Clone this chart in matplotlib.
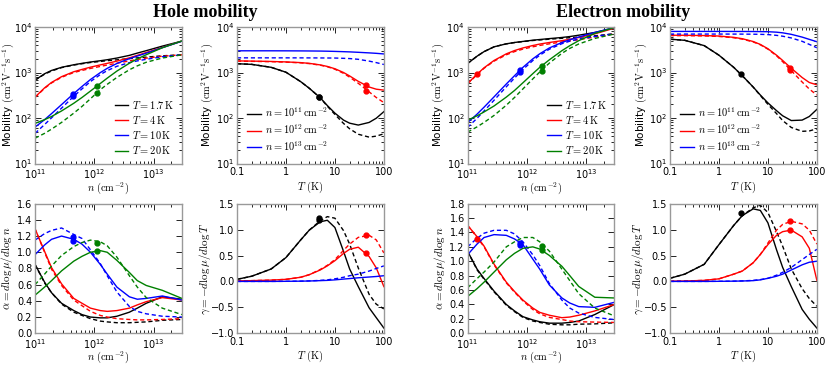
import matplotlib
matplotlib.use("Agg")
import matplotlib.pyplot as plt
import matplotlib.ticker as ticker

plt.rcParams["font.family"] = "DejaVu Sans"
plt.rcParams["mathtext.fontset"] = "cm"

n_vals = [1e11, 1.45e11, 1.9e11, 2.8e11, 4.5e11, 6.2e11, 8.6e11, 1.26e12,
          1.65e12, 2.4e12, 3.9e12, 5.3e12, 7.5e12, 1.4e13, 3e13]
T_vals = [0.1, 0.2, 0.5, 1, 2, 3, 5, 7, 10, 15, 20, 30, 50, 70, 100]

temp_labels = [r"$T = 1.7\,\mathrm{K}$", r"$T = 4\,\mathrm{K}$",
               r"$T = 10\,\mathrm{K}$", r"$T = 20\,\mathrm{K}$"]
dens_labels = [r"$n = 10^{11}\,\mathrm{cm^{-2}}$", r"$n = 10^{12}\,\mathrm{cm^{-2}}$",
               r"$n = 10^{13}\,\mathrm{cm^{-2}}$"]
temp_colors = ["k", "r", "b", "g"]
dens_colors = ["k", "r", "b"]

# ---- hole mobility vs n (T = 1.7, 4, 10, 20 K)
hole_mu_n_solid = [
    [680, 940, 1110, 1300, 1480, 1590, 1700, 1815, 1910, 2080, 2380, 2670, 3020, 3800, 4900],
    [288, 460, 605, 810, 1040, 1170, 1310, 1470, 1590, 1780, 2100, 2380, 2750, 3550, 4900],
    [63, 92, 125, 197, 345, 494, 701, 995, 1235, 1580, 2020, 2300, 2660, 3510, 4880],
    [76, 92, 108, 143, 211, 283, 391, 574, 752, 1075, 1600, 1990, 2460, 3500, 4950],
]
hole_mu_n_dash = [
    [680, 920, 1080, 1280, 1460, 1560, 1660, 1750, 1820, 1900, 2020, 2100, 2180, 2330, 2450],
    [283, 450, 590, 785, 1000, 1110, 1230, 1360, 1460, 1600, 1800, 1930, 2070, 2280, 2450],
    [46, 72, 101, 165, 300, 438, 632, 900, 1100, 1370, 1650, 1800, 1950, 2220, 2450],
    [36, 46, 57, 80, 128, 180, 265, 420, 550, 780, 1150, 1400, 1680, 2080, 2450],
]
hole_n_mark_x = [4.4e11, 4.4e11, 1.1e12, 1.1e12]
hole_n_mark_mu = [340, 300, 500, 360]
hole_n_mark_alpha = [1.14, 1.19, 1.02, 1.11]
hole_n_mark_c = ["b", "b", "g", "g"]

# ---- hole mobility vs T (n = 1e11, 1e12, 1e13)
hole_mu_T_solid = [
    [1560, 1510, 1300, 1015, 630, 450, 280, 188, 128, 90, 77, 70, 80, 99, 138],
    [1800, 1780, 1750, 1710, 1650, 1590, 1470, 1360, 1210, 1000, 840, 640, 480, 430, 410],
    [3000, 3000, 3000, 2995, 2985, 2975, 2960, 2940, 2910, 2870, 2840, 2780, 2700, 2640, 2560],
]
hole_mu_T_dash = [
    [1560, 1510, 1300, 1015, 630, 450, 278, 182, 120, 76, 58, 44, 38, 40, 45],
    [1780, 1760, 1730, 1690, 1630, 1570, 1450, 1340, 1180, 960, 790, 580, 375, 282, 218],
    [2100, 2100, 2100, 2100, 2098, 2095, 2090, 2085, 2080, 2050, 2025, 1950, 1780, 1650, 1500],
]
hole_T_mark_x = [4.7, 4.7, 44, 44]
hole_T_mark_mu = [290, 290, 520, 390]
hole_T_mark_gamma = [1.19, 1.23, 0.54, 0.89]
hole_T_mark_c = ["k", "k", "r", "r"]

# ---- electron mobility vs n
elec_mu_n_solid = [
    [1575, 2290, 2880, 3670, 4270, 4570, 4820, 5130, 5310, 5560, 5890, 6170, 6610, 7590, 9550],
    [575, 920, 1270, 1840, 2570, 3040, 3470, 3920, 4220, 4570, 5010, 5370, 5890, 7080, 9440],
    [79, 122, 173, 292, 558, 851, 1300, 1995, 2580, 3470, 4570, 5250, 6030, 7590, 9770],
    [89, 112, 136, 184, 288, 403, 596, 944, 1297, 1905, 3020, 3890, 5010, 7240, 9770],
]
elec_mu_n_dash = [
    [1575, 2290, 2880, 3670, 4260, 4550, 4780, 5050, 5200, 5400, 5650, 5820, 6000, 6400, 7100],
    [560, 900, 1240, 1780, 2450, 2880, 3270, 3670, 3940, 4270, 4680, 4950, 5250, 6030, 7080],
    [62, 99, 143, 246, 485, 755, 1170, 1830, 2400, 3260, 4300, 4880, 5450, 6200, 7100],
    [49, 64, 80, 114, 191, 283, 437, 723, 1026, 1615, 2640, 3390, 4240, 5610, 7030],
]
elec_n_mark_x = [1.46e11, 7.6e11, 7.6e11, 1.8e12, 1.8e12]
elec_n_mark_mu = [930, 1120, 1050, 1380, 1090]
elec_n_mark_alpha = [1.31, 1.23, 1.25, 1.15, 1.21]
elec_n_mark_c = ["r", "b", "b", "g", "g"]

# ---- electron mobility vs T
elec_mu_T_solid = [
    [5400, 5100, 3900, 2400, 1300, 850, 480, 320, 215, 145, 112, 88, 90, 108, 155],
    [6600, 6580, 6490, 6330, 5930, 5530, 4800, 4140, 3330, 2400, 1840, 1240, 776, 603, 536],
    [8000, 8000, 8000, 8000, 7990, 7980, 7960, 7930, 7880, 7700, 7450, 6900, 6000, 5350, 4750],
]
elec_mu_T_dash = [
    [5400, 5100, 3900, 2400, 1300, 850, 478, 312, 200, 125, 88, 62, 51, 52, 58],
    [6470, 6450, 6360, 6200, 5810, 5420, 4700, 4070, 3260, 2330, 1730, 1100, 618, 434, 319],
    [7000, 7000, 7000, 7000, 6990, 6980, 6950, 6900, 6820, 6550, 6280, 5750, 4850, 4150, 3500],
]
elec_T_mark_x = [2.8, 28, 28]
elec_T_mark_mu = [920, 1260, 1130]
elec_T_mark_gamma = [1.32, 0.99, 1.16]
elec_T_mark_c = ["k", "r", "r"]

# ---- alpha = dlog mu / dlog n
hole_alpha_solid = [
    [0.85, 0.63, 0.5, 0.37, 0.28, 0.23, 0.2, 0.19, 0.19, 0.21, 0.26, 0.31, 0.37, 0.45, 0.42],
    [1.29, 1.01, 0.81, 0.61, 0.43, 0.37, 0.31, 0.28, 0.27, 0.28, 0.31, 0.35, 0.39, 0.44, 0.41],
    [0.97, 1.09, 1.16, 1.2, 1.16, 1.1, 1.0, 0.85, 0.73, 0.57, 0.45, 0.42, 0.43, 0.46, 0.41],
    [0.47, 0.57, 0.65, 0.77, 0.89, 0.95, 1.0, 1.02, 1.0, 0.9, 0.75, 0.65, 0.59, 0.53, 0.43],
]
hole_alpha_dash = [
    [0.85, 0.62, 0.5, 0.36, 0.26, 0.22, 0.18, 0.15, 0.14, 0.13, 0.13, 0.135, 0.14, 0.16, 0.17],
    [1.29, 1.0, 0.79, 0.59, 0.41, 0.34, 0.27, 0.22, 0.2, 0.18, 0.17, 0.165, 0.165, 0.17, 0.18],
    [1.15, 1.23, 1.27, 1.3, 1.22, 1.17, 1.03, 0.86, 0.71, 0.51, 0.33, 0.27, 0.24, 0.21, 0.2],
    [0.6, 0.73, 0.83, 0.96, 1.07, 1.12, 1.15, 1.13, 1.08, 0.94, 0.71, 0.57, 0.44, 0.31, 0.23],
]
elec_alpha_solid = [
    [1.14, 0.89, 0.76, 0.585, 0.4, 0.31, 0.23, 0.185, 0.16, 0.14, 0.14, 0.15, 0.17, 0.26, 0.4],
    [1.5, 1.34, 1.21, 0.96, 0.71, 0.58, 0.46, 0.35, 0.29, 0.25, 0.216, 0.225, 0.25, 0.31, 0.4],
    [1.09, 1.24, 1.33, 1.37, 1.36, 1.31, 1.23, 1.03, 0.89, 0.67, 0.49, 0.42, 0.37, 0.36, 0.43],
    [0.51, 0.62, 0.71, 0.85, 1.02, 1.11, 1.18, 1.2, 1.17, 1.08, 0.93, 0.8, 0.65, 0.5, 0.49],
]
elec_alpha_dash = [
    [1.14, 0.88, 0.75, 0.575, 0.39, 0.3, 0.22, 0.17, 0.15, 0.125, 0.117, 0.117, 0.126, 0.13, 0.145],
    [1.5, 1.33, 1.2, 0.95, 0.7, 0.57, 0.45, 0.33, 0.27, 0.22, 0.19, 0.17, 0.16, 0.155, 0.15],
    [1.2, 1.32, 1.39, 1.43, 1.43, 1.38, 1.27, 1.09, 0.94, 0.69, 0.46, 0.35, 0.28, 0.22, 0.19],
    [0.63, 0.76, 0.85, 0.99, 1.2, 1.27, 1.33, 1.33, 1.27, 1.14, 0.89, 0.73, 0.55, 0.35, 0.24],
]

# ---- gamma = -dlog mu / dlog T
hole_gamma_solid = [
    [0.04, 0.1, 0.24, 0.46, 0.8, 0.99, 1.15, 1.18, 1.04, 0.58, 0.24, -0.1, -0.51, -0.7, -0.9],
    [0.01, 0.015, 0.025, 0.04, 0.08, 0.13, 0.22, 0.3, 0.4, 0.54, 0.62, 0.66, 0.48, 0.26, -0.1],
    [0.0, 0.0, 0.0, 0.002, 0.005, 0.008, 0.015, 0.02, 0.03, 0.045, 0.055, 0.07, 0.085, 0.095, 0.11],
]
hole_gamma_dash = [
    [0.04, 0.1, 0.24, 0.46, 0.8, 0.99, 1.17, 1.25, 1.22, 0.98, 0.72, 0.26, -0.25, -0.44, -0.53],
    [0.01, 0.015, 0.025, 0.04, 0.08, 0.13, 0.23, 0.31, 0.42, 0.6, 0.72, 0.85, 0.89, 0.8, 0.55],
    [0.0, 0.0, 0.0, 0.002, 0.005, 0.01, 0.02, 0.03, 0.05, 0.08, 0.11, 0.14, 0.2, 0.25, 0.3],
]
elec_gamma_solid = [
    [0.06, 0.14, 0.33, 0.71, 1.08, 1.27, 1.4, 1.37, 1.13, 0.61, 0.27, -0.1, -0.54, -0.73, -0.9],
    [0.005, 0.008, 0.02, 0.05, 0.14, 0.2, 0.36, 0.52, 0.71, 0.89, 0.96, 0.99, 0.86, 0.64, 0.02],
    [0.0, 0.0, 0.0, 0.002, 0.005, 0.008, 0.015, 0.03, 0.06, 0.1, 0.14, 0.22, 0.32, 0.37, 0.39],
]
elec_gamma_dash = [
    [0.06, 0.14, 0.33, 0.71, 1.08, 1.27, 1.42, 1.47, 1.33, 0.96, 0.68, 0.24, -0.14, -0.33, -0.48],
    [0.005, 0.008, 0.02, 0.05, 0.14, 0.2, 0.36, 0.52, 0.74, 0.99, 1.1, 1.16, 1.11, 0.99, 0.72],
    [0.0, 0.0, 0.0, 0.002, 0.005, 0.01, 0.02, 0.035, 0.06, 0.12, 0.175, 0.27, 0.42, 0.52, 0.62],
]


def style(ax, logy):
    for s in ax.spines.values():
        s.set_color("0.6")
        s.set_linewidth(1.0)
    ax.set_xscale("log")
    if logy:
        ax.set_yscale("log")
    ax.tick_params(which="both", direction="in", top=True, right=True,
                   labelsize=7, width=0.6, colors="k", pad=2)
    ax.tick_params(axis="x", which="both", pad=2.5)
    ax.tick_params(which="major", length=4)
    ax.tick_params(which="minor", length=2)


def draw(ax, x, solid, dash, colors, labels=None):
    for i, (ys, yd, c) in enumerate(zip(solid, dash, colors)):
        ax.plot(x, ys, color=c, lw=1.0, label=labels[i] if labels else None)
        ax.plot(x, yd, color=c, lw=1.0, ls="--", dashes=(3, 2))


def marks(ax, xs, ys, cs):
    for x, y, c in zip(xs, ys, cs):
        ax.plot(x, y, "o", color=c, ms=3.5, mec=c)


def temp_axis(ax, xlab_y):
    ax.set_xlim(0.1, 100)
    ax.xaxis.set_major_locator(ticker.FixedLocator([0.1, 1, 10, 100]))
    ax.xaxis.set_major_formatter(ticker.FuncFormatter(lambda v, p: f"{v:g}"))
    ax.set_xlabel(r"$T\ (\mathrm{K})$", fontsize=7.5)
    ax.xaxis.set_label_coords(0.5, xlab_y)


def dens_axis(ax, xlab_y):
    ax.set_xlim(1e11, 3e13)
    ax.set_xlabel(r"$n\ (\mathrm{cm^{-2}})$", fontsize=7.5)
    ax.xaxis.set_label_coords(0.5, xlab_y)


fig = plt.figure(figsize=(8.3, 3.65), dpi=100)
lefts = [0.0422, 0.2855, 0.5633, 0.8072]
width = 0.177
top_b, top_h = 0.552, 0.374
bot_b, bot_h = 0.087, 0.355
top_xl, bot_xl = -0.118, -0.12
mob_label = r"Mobility $(\mathrm{cm^2V^{-1}s^{-1}})$"
alpha_label = r"$\alpha = d\log\mu/d\log n$"
gamma_label = r"$\gamma = -d\log\mu/d\log T$"
leg_kw = dict(frameon=False, fontsize=7.5, handlelength=1.3,
              handletextpad=0.4, labelspacing=0.3)

# top row: mobilities
ax = fig.add_axes([lefts[0], top_b, width, top_h])
style(ax, True)
draw(ax, n_vals, hole_mu_n_solid, hole_mu_n_dash, temp_colors, temp_labels)
marks(ax, hole_n_mark_x, hole_n_mark_mu, hole_n_mark_c)
dens_axis(ax, top_xl)
ax.set_ylim(10, 1e4)
ax.set_ylabel(mob_label, fontsize=7.5)
ax.yaxis.set_label_coords(-0.13, 0.5)
ax.legend(loc="lower right", borderaxespad=0.3, **leg_kw)

ax = fig.add_axes([lefts[1], top_b, width, top_h])
style(ax, True)
draw(ax, T_vals, hole_mu_T_solid, hole_mu_T_dash, dens_colors, dens_labels)
marks(ax, hole_T_mark_x, hole_T_mark_mu, hole_T_mark_c)
temp_axis(ax, top_xl)
ax.set_ylim(10, 1e4)
ax.set_ylabel(mob_label, fontsize=7.5)
ax.yaxis.set_label_coords(-0.15, 0.5)
ax.legend(loc="lower left", borderaxespad=0.6, **leg_kw)

ax = fig.add_axes([lefts[2], top_b, width, top_h])
style(ax, True)
draw(ax, n_vals, elec_mu_n_solid, elec_mu_n_dash, temp_colors, temp_labels)
marks(ax, elec_n_mark_x, elec_n_mark_mu, elec_n_mark_c)
dens_axis(ax, top_xl)
ax.set_ylim(10, 1e4)
ax.set_ylabel(mob_label, fontsize=7.5)
ax.yaxis.set_label_coords(-0.15, 0.5)
ax.legend(loc="lower right", borderaxespad=0.3, **leg_kw)

ax = fig.add_axes([lefts[3], top_b, width, top_h])
style(ax, True)
draw(ax, T_vals, elec_mu_T_solid, elec_mu_T_dash, dens_colors, dens_labels)
marks(ax, elec_T_mark_x, elec_T_mark_mu, elec_T_mark_c)
temp_axis(ax, top_xl)
ax.set_ylim(10, 1e4)
ax.set_ylabel(mob_label, fontsize=7.5)
ax.yaxis.set_label_coords(-0.145, 0.5)
ax.legend(loc="lower left", borderaxespad=0.6, **leg_kw)

# bottom row: exponents
ax = fig.add_axes([lefts[0], bot_b, width, bot_h])
style(ax, False)
draw(ax, n_vals, hole_alpha_solid, hole_alpha_dash, temp_colors)
marks(ax, hole_n_mark_x, hole_n_mark_alpha, hole_n_mark_c)
dens_axis(ax, bot_xl)
ax.set_ylim(0, 1.6)
ax.yaxis.set_major_locator(ticker.MultipleLocator(0.2))
ax.set_ylabel(alpha_label, fontsize=8)
ax.yaxis.set_label_coords(-0.135, 0.5)

ax = fig.add_axes([lefts[1], bot_b, width, bot_h])
style(ax, False)
draw(ax, T_vals, hole_gamma_solid, hole_gamma_dash, dens_colors)
marks(ax, hole_T_mark_x, hole_T_mark_gamma, hole_T_mark_c)
temp_axis(ax, bot_xl)
ax.set_ylim(-1.0, 1.5)
ax.yaxis.set_major_locator(ticker.MultipleLocator(0.5))
ax.set_ylabel(gamma_label, fontsize=8)
ax.yaxis.set_label_coords(-0.165, 0.5)

ax = fig.add_axes([lefts[2], bot_b, width, bot_h])
style(ax, False)
draw(ax, n_vals, elec_alpha_solid, elec_alpha_dash, temp_colors)
marks(ax, elec_n_mark_x, elec_n_mark_alpha, elec_n_mark_c)
dens_axis(ax, bot_xl)
ax.set_ylim(0, 1.8)
ax.yaxis.set_major_locator(ticker.MultipleLocator(0.2))
ax.set_ylabel(alpha_label, fontsize=8)
ax.yaxis.set_label_coords(-0.135, 0.5)

ax = fig.add_axes([lefts[3], bot_b, width, bot_h])
style(ax, False)
draw(ax, T_vals, elec_gamma_solid, elec_gamma_dash, dens_colors)
marks(ax, elec_T_mark_x, elec_T_mark_gamma, elec_T_mark_c)
temp_axis(ax, bot_xl)
ax.set_ylim(-1.0, 1.5)
ax.yaxis.set_major_locator(ticker.MultipleLocator(0.5))
ax.set_ylabel(gamma_label, fontsize=8)
ax.yaxis.set_label_coords(-0.165, 0.5)

fig.text(0.247, 0.953, "Hole mobility", ha="center", va="baseline",
         fontsize=13, fontweight="bold", family="Liberation Serif")
fig.text(0.751, 0.953, "Electron mobility", ha="center", va="baseline",
         fontsize=13, fontweight="bold", family="Liberation Serif")

fig.savefig("out.png", dpi=100)
